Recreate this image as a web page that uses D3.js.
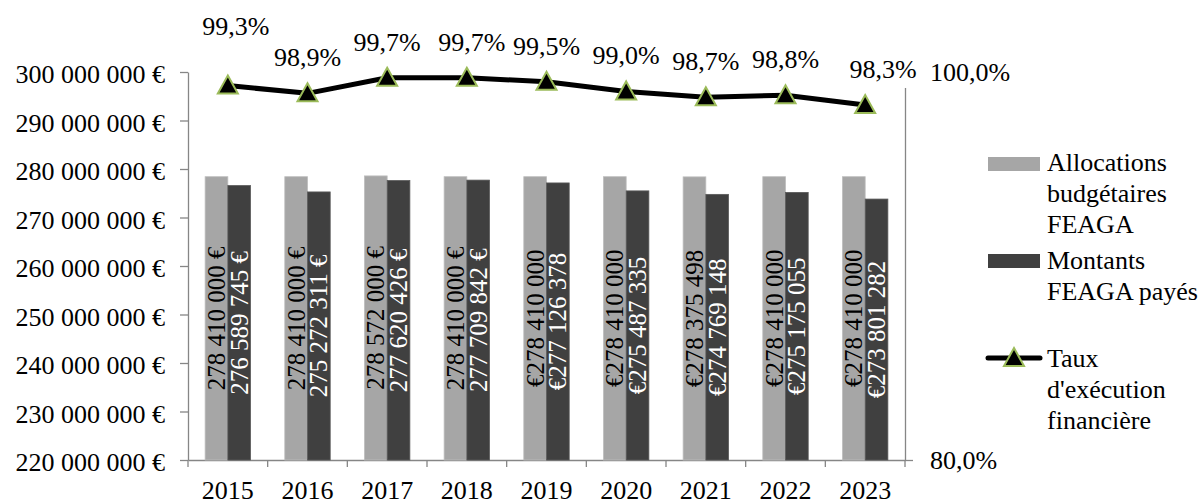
<!DOCTYPE html>
<html>
<head>
<meta charset="utf-8">
<script src="https://cdn.jsdelivr.net/npm/d3@7"></script>
</head>
<body style="margin:0;background:#fff">
<svg id="chart" width="1204" height="503"></svg>
<script>
// FEAGA: budget allocations vs. amounts paid, and the financial execution rate
const years = ["2015", "2016", "2017", "2018", "2019", "2020", "2021", "2022", "2023"];
const allocations = [278410000, 278410000, 278572000, 278410000, 278410000, 278410000, 278375498, 278410000, 278410000];
const paid = [276589745, 275272311, 277620426, 277709842, 277126378, 275487335, 274769148, 275175055, 273801282];
const rate = [99.3, 98.9, 99.7, 99.7, 99.5, 99.0, 98.7, 98.8, 98.3];
const leftTicks = [220e6, 230e6, 240e6, 250e6, 260e6, 270e6, 280e6, 290e6, 300e6];
const rightTicks = [80, 100];
// years whose amount labels put the euro sign in front
const euroFirstYears = ["2019", "2020", "2021", "2022", "2023"];
const legendLines = [
  ["Allocations", "budgétaires", "FEAGA"],
  ["Montants", "FEAGA payés"],
  ["Taux", "d'exécution", "financière"]
];
// small manual shifts of some rate labels [dx, dy]
const rateLabelNudge = [[8, -24], [0, 0], [0, 0], [5, 0], [0, 0], [0, 0], [0, 0], [0, 0], [18, 0]];

const FONT = "Liberation Serif";
const colors = { alloc: "#a6a6a6", paid: "#404040", axis: "#868686", marker: "#9bbb59" };

const svg = d3.select("#chart");
const plot = { left: 188, right: 905, top: 72, bottom: 460 };

// plain ASCII spaces as thousands separator
const group = v => String(v).replace(/\B(?=(\d{3})+(?!\d))/g, " ");
const euroAxis = v => group(v) + " €";
const barLabel = (v, year) => euroFirstYears.includes(year) ? "€" + group(v) : group(v) + " €";
const pct = v => v.toFixed(1).replace(".", ",") + "%";

const x = d3.scaleBand().domain(years).range([plot.left, plot.right]).padding(0);
const bw = x.bandwidth();
const x1 = d3.scaleBand().domain(["alloc", "paid"]).range([bw * 0.215, bw * 0.785]).padding(0);
const yL = d3.scaleLinear().domain([220e6, 300e6]).range([plot.bottom, plot.top]);
const yR = d3.scaleLinear().domain([80, 100]).range([plot.bottom, plot.top]);

const setFont = (sel, size) => sel.attr("font-family", FONT).attr("font-size", size)
  .style("font-family", FONT).style("font-size", size + "px");

function styleAxis(g) {
  g.attr("font-family", null).attr("font-size", null);
  setFont(g.selectAll("text"), 26).attr("fill", "#000");
  g.selectAll("line,path").attr("stroke", colors.axis).attr("stroke-width", 1.3);
}

// left axis
const gL = svg.append("g").attr("transform", `translate(${plot.left},0)`)
  .call(d3.axisLeft(yL).tickValues(leftTicks).tickFormat(euroAxis).tickSize(8).tickSizeOuter(0).tickPadding(15));
styleAxis(gL);
gL.selectAll("text").attr("dy", "0.42em");

// right axis
const gR = svg.append("g").attr("transform", `translate(${plot.right},0)`)
  .call(d3.axisRight(yR).tickValues(rightTicks).tickFormat(pct).tickSize(8).tickSizeOuter(0).tickPadding(17));
styleAxis(gR);
gR.selectAll("text").attr("dy", "0.32em");

// bottom axis: labels at category centres, ticks at category boundaries
const gB = svg.append("g").attr("transform", `translate(0,${plot.bottom})`)
  .call(d3.axisBottom(x).tickSize(0).tickSizeOuter(0).tickPadding(22));
styleAxis(gB);
gB.selectAll("text").attr("dy", "0.66em");
const bounds = years.map(y => x(y)).concat([x(years[years.length - 1]) + bw]);
gB.selectAll("line.bound").data(bounds).join("line").attr("class", "bound")
  .attr("x1", d => d).attr("x2", d => d).attr("y1", 0).attr("y2", 7)
  .attr("stroke", colors.axis).attr("stroke-width", 1.3);

// bars
const rows = years.map((year, i) => ({ year, alloc: allocations[i], paid: paid[i] }));
const groups = svg.append("g").selectAll("g").data(rows).join("g")
  .attr("transform", d => `translate(${x(d.year)},0)`);
["alloc", "paid"].forEach(key => {
  groups.append("rect")
    .attr("x", x1(key)).attr("width", x1.bandwidth())
    .attr("y", d => yL(d[key])).attr("height", d => yL(220e6) - yL(d[key]))
    .attr("fill", colors[key])
    .attr("stroke", key === "alloc" ? "#bdbdbd" : "#5a5a5a").attr("stroke-width", 0.8);
  setFont(groups.append("text"), 25)
    .attr("transform", d => `translate(${x1(key) + x1.bandwidth() / 2},${(yL(d[key]) + yL(220e6)) / 2}) rotate(-90)`)
    .attr("text-anchor", "middle").attr("dy", "0.34em")
    .attr("fill", key === "alloc" ? "#000" : "#fff")
    .text(d => barLabel(d[key], d.year));
});

// rate line
const cx = d => x(d.year) + bw / 2;
const rateRows = years.map((year, i) => ({ year, v: rate[i], nudge: rateLabelNudge[i] }));

// rate labels with white boxes
const lab = svg.append("g").selectAll("g").data(rateRows).join("g")
  .attr("transform", d => `translate(${cx(d) + d.nudge[0]},${yR(d.v) - 27 + d.nudge[1]})`);
lab.append("rect").attr("x", -38).attr("y", -26).attr("width", 76).attr("height", 36).attr("fill", "#fff");
setFont(lab.append("text"), 26).attr("text-anchor", "middle").attr("fill", "#000").text(d => pct(d.v));

const line = d3.line().x(cx).y(d => yR(d.v));
svg.append("path").datum(rateRows).attr("d", line)
  .attr("fill", "none").attr("stroke", "#000").attr("stroke-width", 5).attr("stroke-linejoin", "round");

const tri = "M0,-10L10,8L-10,8Z";
svg.append("g").selectAll("path").data(rateRows).join("path")
  .attr("d", tri).attr("transform", d => `translate(${cx(d)},${yR(d.v)})`)
  .attr("fill", "#000").attr("stroke", colors.marker).attr("stroke-width", 2);

// legend
const lg = svg.append("g");
lg.append("rect").attr("x", 988).attr("y", 157).attr("width", 52).attr("height", 14).attr("fill", colors.alloc);
lg.append("rect").attr("x", 988).attr("y", 254).attr("width", 52).attr("height", 14).attr("fill", colors.paid);
lg.append("line").attr("x1", 988).attr("x2", 1040).attr("y1", 358).attr("y2", 358)
  .attr("stroke", "#000").attr("stroke-width", 5).attr("stroke-linecap", "round");
lg.append("path").attr("d", tri).attr("transform", "translate(1014,358)")
  .attr("fill", "#000").attr("stroke", colors.marker).attr("stroke-width", 2);
const legendBase = [171, 269, 367];
legendLines.forEach((lines, i) => {
  const t = setFont(lg.append("text"), 26).attr("x", 1047).attr("y", legendBase[i]).attr("fill", "#000");
  lines.forEach((s, j) => t.append("tspan").attr("x", 1047).attr("dy", j === 0 ? 0 : 31).text(s));
});
</script>
</body>
</html>
